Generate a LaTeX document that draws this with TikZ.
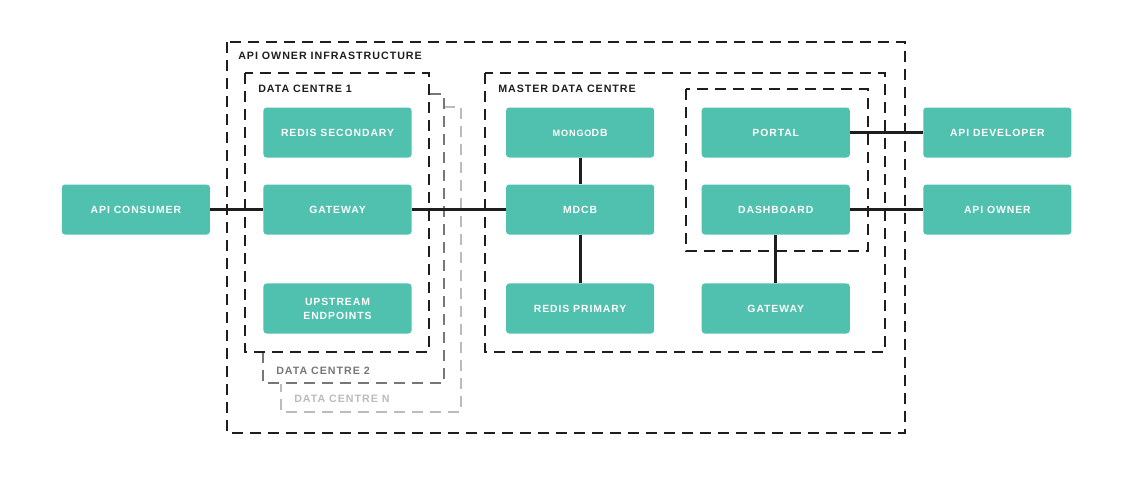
\documentclass[tikz,border=0pt]{standalone}
\usepackage{fontspec}
\setmainfont{Liberation Sans}
\newfontfamily\labelfont{Liberation Sans}[LetterSpace=9]
\usetikzlibrary{positioning}

\definecolor{tealbox}{HTML}{50C1AE}
\definecolor{inkblack}{HTML}{1E1E1E}
\definecolor{dcgrey}{HTML}{777777}
\definecolor{dclight}{HTML}{BBBBBB}

\begin{document}
\begin{tikzpicture}[
    x=0.025cm, y=-0.025cm,
    service/.style={rectangle, fill=tealbox, text=white, font=\labelfont\bfseries\fontsize{7.4}{10}\selectfont, minimum width=3.7cm, minimum height=1.25cm, rounded corners=2.2pt, align=center, inner sep=0pt},
    zone/.style={draw=inkblack, line width=1.6pt, dash pattern=on 7.8pt off 5pt},
    zonetitle/.style={anchor=west, inner sep=0pt, text=inkblack, font=\labelfont\bfseries\fontsize{7.6}{10}\selectfont},
    link/.style={draw=inkblack, line width=2.1pt}
]
    \useasboundingbox (0,0) rectangle (1140,476);

    % data centre 1 and its neighbours
    \node [service] (gw1) at (337.5,209.5) {GATEWAY};
    \node [service, above=0.66cm of gw1] (redis2) {REDIS SECONDARY};
    \node [service, below=1.21cm of gw1] (upstream) {UPSTREAM\\ENDPOINTS};
    \node [service, left=1.325cm of gw1] (consumer) {API CONSUMER};

    % master data centre
    \node [service, right=2.35cm of gw1] (mdcb) {MDCB};
    \node [service, above=0.66cm of mdcb] (mongo) {{\fontsize{6.5}{10}\selectfont MONGO}DB};
    \node [service, below=1.21cm of mdcb] (redis1) {REDIS PRIMARY};
    \node [service, right=1.175cm of mdcb] (dash) {DASHBOARD};
    \node [service, above=0.66cm of dash] (portal) {PORTAL};
    \node [service, below=1.21cm of dash] (gw2) {GATEWAY};

    % outside users
    \node [service, right=1.825cm of dash] (owner) {API OWNER};
    \node [service, above=0.66cm of owner] (developer) {API DEVELOPER};

    % dashed zones
    \draw [zone] (227,42) rectangle (905,433);
    \draw [zone] (245,73) rectangle (429,352);
    \draw [zone, draw=dclight] (444,107) -- (461,107) -- (461,412) -- (281,412) -- (281,384);
    \draw [zone, draw=dcgrey] (430,94) -- (444,94) -- (444,383) -- (263,383) -- (263,353);
    \draw [zone] (485,73) rectangle (885,352);
    \draw [zone] (686,89) rectangle (868,251);

    \node [zonetitle] (infra) at (238,55.5) {API OWNER INFRASTRUCTURE};
    \node [zonetitle] (dc1) at (258,88.5) {DATA CENTRE 1};
    \node [zonetitle, text=dcgrey] (dc2) at (276,371) {DATA CENTRE 2};
    \node [zonetitle, text=dclight] (dcn) at (294,398.5) {DATA CENTRE N};
    \node [zonetitle] (master) at (498,88.5) {MASTER DATA CENTRE};

    % connectors
    \path [link] (consumer) -- (gw1);
    \path [link] (gw1) -- (mdcb);
    \path [link] (mongo) -- (mdcb);
    \path [link] (mdcb) -- (redis1);
    \path [link] (portal) -- (developer);
    \path [link] (dash) -- (owner);
    \path [link] (dash) -- (gw2);
\end{tikzpicture}
\end{document}
